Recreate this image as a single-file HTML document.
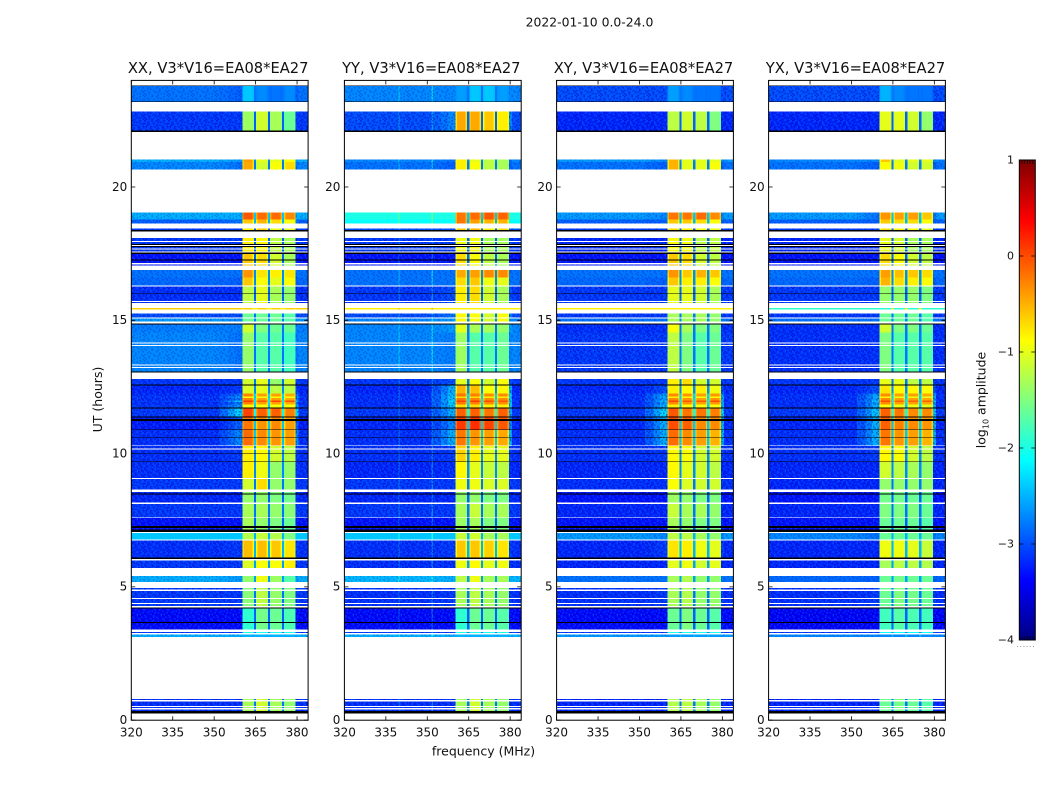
<!DOCTYPE html>
<html lang="en">
<head>
<meta charset="utf-8">
<title>2022-01-10 0.0-24.0</title>
<style>
html,body{margin:0;padding:0;background:#fff;}
svg{display:block;font-family:"DejaVu Sans","Liberation Sans",sans-serif;fill:#111;}
</style>
</head>
<body>
<svg id="chart" xmlns="http://www.w3.org/2000/svg" width="1050" height="800" viewBox="0 0 1050 800">
  <defs>
    <pattern id="noise-tile" width="24" height="24" patternUnits="userSpaceOnUse">
      <path id="noise-dark" shape-rendering="crispEdges" fill="rgba(0,0,150,0.42)"></path>
      <path id="noise-light" shape-rendering="crispEdges" fill="rgba(0,125,255,0.36)"></path>
    </pattern>
  </defs>
  <text x="589.5" y="26.5" font-size="12.4" text-anchor="middle">2022-01-10 0.0-24.0</text>
  <text x="483.5" y="755.5" font-size="12.5" text-anchor="middle">frequency (MHz)</text>
  <text transform="translate(102,399.5) rotate(-90)" font-size="12.5" text-anchor="middle">UT (hours)</text>
  <text transform="translate(985.5,400) rotate(-90)" font-size="12.5" text-anchor="middle">log<tspan font-size="8" dy="3">10</tspan><tspan dy="-3"> amplitude</tspan></text>
  <g id="panels"></g>
  <g id="colorbar"></g>
</svg>
<script>
// ---- Data ----
const panelNames = ["XX", "YY", "XY", "YX"];
const xTicks = [320, 335, 350, 365, 380];
const yTicks = [0, 5, 10, 15, 20];
const colorTicks = [1, 0, -1, -2, -3, -4];
const blockEdgesMHz = [[360.2, 364.4], [365.2, 369.4], [370.2, 374.5], [375.3, 379.5]];

// rows: [start UT, end UT, profile]; profile -1 is a flagged (black) row. Gaps stay white.
const rows = [
[23.81,23.79,-1],[23.79,23.21,0],[23.21,23.19,-1],[22.84,22.13,1],[22.13,22.06,-1],[21.04,20.94,2],[20.94,20.66,3],
[19.04,18.79,4],[18.79,18.64,5],[18.45,18.38,6],[18.38,18.34,-1],[18.08,17.97,7],[17.94,17.86,7],[17.86,17.82,-1],
[17.79,17.75,-1],[17.75,17.70,7],[17.66,17.58,7],[17.54,17.49,-1],[17.49,17.28,8],[17.28,17.24,-1],[17.24,17.15,8],
[17.10,17.06,8],[16.88,16.60,9],[16.60,16.30,10],[16.26,16.02,11],[16.02,16.00,-1],[16.00,15.72,11],[15.68,15.65,11],
[15.46,15.41,12],[15.25,15.10,13],[15.06,14.96,14],[14.88,14.84,-1],[14.84,14.55,15],[14.55,14.16,16],[14.13,14.07,16],
[14.04,13.35,16],[13.31,13.25,16],[13.21,13.08,16],[13.08,13.04,-1],[12.79,12.60,17],[12.60,12.56,-1],[12.56,12.25,18],
[12.25,12.15,19],[12.15,12.08,38],[12.08,12.00,19],[12.00,11.93,39],[11.93,11.85,19],[11.85,11.73,38],
[11.73,11.69,-1],[11.69,11.40,20],[11.40,11.36,-1],[11.36,11.29,21],[11.29,11.22,-1],[11.22,10.90,21],
[10.90,10.88,-1],[10.88,10.61,22],[10.61,10.59,-1],[10.59,10.31,22],[10.28,10.19,23],[10.15,10.00,23],[10.00,9.98,-1],
[9.98,9.71,23],[9.71,9.68,-1],[9.68,9.08,24],[9.04,8.66,25],[8.56,8.50,26],[8.50,8.46,-1],[8.46,8.16,26],[8.11,7.61,27],
[7.59,7.29,28],[7.29,7.21,-1],[7.21,7.15,28],[7.15,7.06,-1],[7.02,6.78,29],[6.74,6.10,30],[6.10,6.05,-1],[6.00,5.71,31],
[5.41,5.18,32],[4.96,4.90,33],[4.85,4.59,33],[4.54,4.39,33],[4.35,4.28,33],[4.23,4.19,-1],[4.19,3.68,34],[3.68,3.64,-1],
[3.64,3.40,34],[3.31,3.27,35],[3.21,3.12,36],[0.79,0.75,37],[0.71,0.54,37],[0.50,0.46,37],[0.41,0.34,37],[0.34,0.26,-1]
];

// log10 amplitude per profile: [background, shoulder, block1, block2, block3, block4]
const levelsXX = [
[-2.8,-2.9,-2.4,-2.7,-2.8,-2.7],[-3.1,-3.1,-1.35,-1.1,-1.3,-1.6],[-2.5,-2.6,-.4,-1,-1,-.9],[-2.7,-2.8,-.45,-1.1,-.9,-.7],
[-2.5,-2.5,-.05,-.15,-.15,-.3],[-2.9,-2.8,-.6,-.5,-.7,-.9],[-3.1,-3.1,-.8,-.6,-1,-1],[-3.1,-3.1,-.8,-.85,-1.2,-1.3],
[-3.3,-3.3,-.6,-.7,-1.1,-1.3],[-2.8,-2.8,-.35,-.75,-.8,-.75],[-2.85,-2.9,-.6,-.9,-1,-.9],[-3.15,-3.15,-1.2,-1,-1.3,-1.4],
[-.65,-.65,-.65,-.65,-.65,-.65],[-3,-3,-1.6,-1.6,-1.6,-1.7],[-2.6,-2.7,-1.6,-1.6,-1.6,-1.7],[-2.75,-2.75,-1.1,-1.5,-1.6,-1.6],
[-2.7,-2.8,-1.4,-1.7,-1.7,-1.8],[-3.1,-3.1,-1.1,-1,-1.4,-1.1],[-3.2,-3.1,-1.05,-1,-1.2,-1.2],[-3.15,-2.8,-.25,-.4,-.4,-.45],
[-3.1,-2.3,.05,-.1,-.1,-.25],[-3.25,-2.9,-.2,-.35,-.3,-.4],[-3.15,-2.7,-.15,-.3,-.35,-.4],[-3.15,-3.1,-.8,-.85,-1.1,-1.2],
[-3.15,-3.15,-.8,-.95,-1.4,-1.4],[-3.1,-3.1,-1.1,-.7,-1.4,-1.4],[-3.2,-3.2,-1.4,-1.4,-1.5,-1.55],[-3.1,-3.1,-1.3,-1.3,-1.4,-1.45],
[-3.3,-3.3,-1.3,-1.4,-1.5,-1.6],[-2.4,-2.4,-1.25,-1.15,-1.25,-1.5],[-3.15,-3.1,-.55,-.55,-.6,-.75],[-3.1,-3.1,-1.05,-.9,-.9,-.8],
[-2.5,-2.6,-1.4,-.95,-1.35,-1.7],[-3.1,-3.1,-1.45,-1.2,-1.4,-1.5],[-3.35,-3.35,-1.9,-1.55,-1.6,-1.75],[-3.1,-3.1,-2,-2,-2,-2],
[-2.5,-2.5,-2.5,-2.5,-2.5,-2.5],[-3.15,-3.15,-1.3,-1.1,-1.3,-1.4],[-3.1,-2.6,-.85,-.9,-.9,-.9],[-3.1,-2.4,.1,-.05,.05,0]
];
const levelsYY = [
[-2.7,-2.7,-2.6,-2.4,-2.4,-2.6],[-3,-2.7,-.45,-.45,-.6,-.8],[-2.7,-2.8,-.8,-1,-1.2,-1.3],[-2.8,-2.9,-.8,-.9,-1.2,-1.3],
[-2,-2,-.2,-.15,-.05,-.1],[-2.1,-2.1,-.2,-.4,-.5,-.5],[-3,-3,-.6,-.5,-.8,-.7],[-3.1,-3.1,-.95,-.95,-1.3,-1.3],
[-3.3,-3.3,-.7,-.9,-1.2,-1.3],[-2.8,-2.8,-.45,-.4,-.3,-.3],[-2.8,-2.8,-.7,-.6,-.95,-1],[-3.1,-3,-.8,-.7,-1.1,-1.3],
[-.8,-.8,-.8,-.8,-.8,-.8],[-3,-2.8,-.85,-.9,-1.1,-.9],[-2.7,-2.6,-.85,-.9,-1.1,-.9],[-2.7,-2.6,-1,-1.3,-1.3,-1.4],
[-2.7,-2.75,-1.35,-1.7,-1.7,-1.6],[-3.1,-3,-1,-.9,-1.1,-.9],[-3.2,-2.5,-.5,-.55,-.9,-.85],[-3.15,-2.4,-.2,-.25,-.3,-.3],
[-3.1,-2.5,-.1,-.1,-.2,-.1],[-3.2,-2.7,.1,.15,.05,-.05],[-3.15,-2.5,-.2,-.35,-.4,-.45],[-3.15,-3.1,-.65,-.8,-1,-1],
[-3.2,-3.15,-.85,-1,-1.15,-1.2],[-3.1,-3.1,-.95,-.95,-1.05,-1.05],[-3.2,-3.2,-1.4,-1.4,-1.5,-1.5],[-3.1,-3.1,-1.3,-1.15,-1.3,-1.3],
[-3.3,-3.3,-1.35,-1.3,-1.5,-1.5],[-2.4,-2.4,-1.15,-1.1,-1.3,-1.3],[-3.15,-3.1,-.6,-.6,-.65,-.75],[-3.15,-3.15,-.95,-.85,-1,-.95],
[-2.45,-2.5,-1.2,-.95,-1.3,-1.3],[-3.15,-3.1,-1.3,-1.2,-1.3,-1.4],[-3.35,-3.35,-1.9,-1.6,-1.6,-1.7],[-3.1,-3.1,-2,-2,-2,-2],
[-2.5,-2.5,-2.5,-2.5,-2.5,-2.5],[-3.15,-3.15,-1.3,-1.1,-1.3,-1.4],[-3.15,-2.4,-.7,-.7,-.8,-.8],[-3.15,-2.3,.05,.1,0,-.05]
];
const levelsXY = [
[-3,-3,-2.6,-2.7,-2.8,-2.8],[-3.2,-3.2,-1.2,-1.1,-1.2,-1.5],[-2.6,-2.7,-.5,-1,-1,-1],[-2.8,-2.9,-.5,-1,-1,-.9],
[-2.6,-2.7,-.2,-.2,-.15,-.3],[-2.9,-2.9,-.6,-.6,-.7,-.9],[-3.1,-3.1,-.7,-.8,-.9,-1],[-3.2,-3.2,-.9,-.95,-1.2,-1.2],
[-3.3,-3.3,-.6,-.7,-1.1,-1.2],[-2.8,-2.8,-.35,-.6,-.5,-.6],[-2.85,-2.9,-.6,-.8,-.8,-.9],[-3.1,-3.1,-1,-1,-1.1,-1.3],
[-.8,-.8,-.8,-.8,-.8,-.8],[-3.1,-3.1,-1.3,-1.3,-1.3,-1.4],[-2.8,-2.8,-1.3,-1.3,-1.3,-1.4],[-3.15,-3.15,-.9,-1.3,-1.5,-1.5],
[-3.1,-3.1,-1.2,-1.5,-1.7,-1.6],[-3.1,-3.1,-.8,-.7,-1.1,-1.1],[-3.2,-3,-.8,-.85,-.8,-.95],[-3.15,-2.6,-.3,-.35,-.4,-.35],
[-3.1,-2.3,-.05,-.2,-.2,-.25],[-3.2,-2.5,0,-.1,-.3,-.3],[-3.15,-2.5,-.15,-.3,-.4,-.5],[-3.15,-3.1,-.85,-.9,-1.1,-1.1],
[-3.2,-3.2,-.85,-1,-1.1,-1.2],[-3.15,-3.15,-.9,-1.05,-1.1,-1.1],[-3.3,-3.3,-1.35,-1.4,-1.5,-1.5],[-3.2,-3.2,-1.15,-1.3,-1.3,-1.4],
[-3.3,-3.3,-1.3,-1.4,-1.5,-1.5],[-2.6,-2.7,-1.2,-1.2,-1.3,-1.4],[-3.2,-3.1,-.75,-.8,-.95,-1],[-3.2,-3.2,-1,-.95,-1.1,-1],
[-2.8,-2.8,-1.3,-1.25,-1.4,-1.4],[-3.15,-3.1,-1.3,-1.25,-1.4,-1.4],[-3.35,-3.35,-1.6,-1.5,-1.6,-1.7],[-3.1,-3.1,-2,-2,-2,-2],
[-2.6,-2.6,-2.6,-2.6,-2.6,-2.6],[-3.2,-3.2,-1.25,-1.2,-1.3,-1.4],[-3.15,-2.5,-.8,-.85,-.9,-.9],[-3.15,-2.4,.05,-.05,-.05,0]
];
const levelsYX = [
[-3,-3,-2.5,-2.7,-2.8,-2.8],[-3.2,-3.2,-1,-1,-1.1,-1.4],[-2.7,-2.7,-.6,-1,-1,-1],[-2.8,-2.9,-.9,-.95,-1.1,-1.1],
[-2.6,-2.8,-.35,-.4,-.4,-.6],[-2.9,-2.9,-.6,-.7,-.7,-.9],[-3.1,-3.1,-.7,-.8,-.9,-1],[-3.2,-3.2,-1,-1.1,-1.3,-1.3],
[-3.3,-3.3,-.7,-.9,-1.1,-1.2],[-2.8,-2.8,-.4,-.55,-.6,-.7],[-2.85,-2.9,-.5,-.7,-.8,-.9],[-3.1,-3.1,-1.4,-1.4,-1.4,-1.5],
[-1.9,-1.9,-1.9,-1.9,-1.9,-1.9],[-3.1,-3.1,-1.6,-1.6,-1.6,-1.7],[-2.8,-2.8,-1.6,-1.6,-1.6,-1.7],[-3.15,-3.15,-1.1,-1.5,-1.5,-1.6],
[-3.15,-3.15,-1.5,-1.7,-1.7,-1.7],[-3.1,-3.1,-1,-1,-1.2,-1.2],[-3.2,-3,-.75,-.85,-.85,-.9],[-3.15,-2.6,-.3,-.4,-.4,-.45],
[-3.1,-2.4,-.1,-.2,-.3,-.3],[-3.2,-2.5,-.1,-.25,-.3,-.35],[-3.15,-2.5,-.2,-.35,-.4,-.5],[-3.15,-3.1,-.85,-.9,-1.1,-1.2],
[-3.2,-3.2,-1.1,-1.2,-1.3,-1.4],[-3.2,-3.2,-1.4,-1.4,-1.4,-1.4],[-3.3,-3.3,-1.55,-1.55,-1.6,-1.6],[-3.2,-3.2,-1.5,-1.5,-1.5,-1.6],
[-3.3,-3.3,-1.6,-1.6,-1.6,-1.7],[-2.7,-2.8,-1.6,-1.6,-1.6,-1.6],[-3.2,-3.2,-.95,-.95,-1,-1.15],[-3.2,-3.2,-1.3,-1.2,-1.2,-1.25],
[-2.85,-2.9,-1.6,-1.55,-1.6,-1.6],[-3.15,-3.1,-1.6,-1.5,-1.55,-1.6],[-3.4,-3.4,-1.8,-1.7,-1.75,-1.8],[-3.1,-3.1,-2.1,-2.1,-2.1,-2.1],
[-2.7,-2.7,-2.7,-2.7,-2.7,-2.7],[-3.2,-3.2,-1.6,-1.55,-1.6,-1.7],[-3.15,-2.5,-.85,-.95,-.95,-1],[-3.15,-2.4,0,-.1,-.1,-.1]
];
const notchLevels = [-2.8,-2.9,-2.7,-2.8,-2.4,-2.5,-2.9,-2.9,-2.9,-2.7,-2.7,-2.9,-.8,-2.8,-2.7,-2.8,-2.8,-2.8,-2.7,-2.3,-2.1,-2.4,-2.4,-2.7,-2.7,-2.8,-2.9,-2.8,-2.9,-2.5,-2.5,-2.6,-2.6,-2.8,-2.9,-2.8,-2.5,-2.8,-2.4,-2.2];
const panelLevels = [levelsXX, levelsYY, levelsXY, levelsYX];
const spursMHz = [[], [339.5, 351.5], [], []];

// Speckle tile for the receiver-noise background: d = darker, l = lighter, . = none
const noiseTile = [
"d.l..dl.d..l.d.l",".ld.l...ld.d..l.","d..dl.d...l.ld.d","l.d..l.ld.d..l..",
".d.ld..d..l.d.ld","..l.d.l..d.ld...","ld...d.ld.l..d.l","..dl.l...d.dl.d.",
"d.l..d.l.l..d..l",".d..ld...d.l.ld.","l..d..l.d..ld..d",".ld.d.l.l.d...l.","d...l.d..ld.l.d.",
".l.d..ld.d...l.d","d.ld.l...l.d.d..",".d...d.l.d.l..ld"
];

// ---- Layout and axis functions ----
const SVGNS = "http://www.w3.org/2000/svg";
const panelLeft = [131.3, 344.4, 556.6, 768.6];
const plotWidth = 176.8, plotTop = 80.4, plotBottom = 720.2;
const cbLeft = 1019.3, cbRight = 1035.3, cbTop = 160, cbBottom = 640;

function xScale(left, mhz) { return left + (mhz - 320) * plotWidth / 64; }
function yScale(ut) { return plotBottom - ut * (plotBottom - plotTop) / 24; }
function cbScale(v) { return cbBottom - (v + 4) * (cbBottom - cbTop) / 5; }
function clamp01(v) { return Math.max(0, Math.min(1, v)); }
function jet(v) {
  const t = clamp01((v + 4) / 5);
  const r = clamp01(Math.min(4 * t - 1.5, -4 * t + 4.5));
  const g = clamp01(Math.min(4 * t - 0.5, -4 * t + 3.5));
  const b = clamp01(Math.min(4 * t + 0.5, -4 * t + 2.5));
  return "rgb(" + Math.round(r * 255) + "," + Math.round(g * 255) + "," + Math.round(b * 255) + ")";
}
function make(tag, attrs, parent) {
  const el = document.createElementNS(SVGNS, tag);
  for (const k in attrs) el.setAttribute(k, attrs[k]);
  parent.appendChild(el);
  return el;
}

// Noise tile paths
let darkPath = "", lightPath = "";
noiseTile.forEach(function (line, r) {
  line.split("").forEach(function (ch, c) {
    const seg = "M" + c * 1.5 + " " + r * 1.5 + "h1.5v1.5h-1.5z";
    if (ch === "d") darkPath += seg;
    if (ch === "l") lightPath += seg;
  });
});
document.getElementById("noise-dark").setAttribute("d", darkPath);
document.getElementById("noise-light").setAttribute("d", lightPath);

function cell(group, left, f0, f1, y0, h, fill) {
  const x0 = xScale(left, f0);
  const r = make("rect", { x: x0, y: y0, width: xScale(left, f1) - x0, height: h, fill: fill }, group);
  
  
  return r;
}

const root = document.getElementById("panels");
panelNames.forEach(function (name, p) {
  const left = panelLeft[p];
  const right = left + plotWidth;
  const levels = panelLevels[p];
  const g = make("g", {}, root);
  
  
  const hm = make("g", { "shape-rendering": "crispEdges" }, g);
  
  

  rows.forEach(function (row) {
    const y0 = yScale(row[0]);
    const h = yScale(row[1]) - y0;
    if (row[2] < 0) {
      const bad = make("rect", { x: left, y: y0, width: plotWidth, height: h, fill: "#000" }, hm);
      
      
      return;
    }
    const lv = levels[row[2]];
    const bg = lv[0], sh = lv[1];
    const notch = notchLevels[row[2]];
    cell(hm, left, 320, 352, y0, h, jet(bg));
    cell(hm, left, 352, 355, y0, h, jet((2 * bg + sh) / 3));
    cell(hm, left, 355, 357.5, y0, h, jet((bg + 2 * sh) / 3));
    cell(hm, left, 357.5, 360.2, y0, h, jet(sh));
    spursMHz[p].forEach(function (f) {
      cell(hm, left, f, f + 0.5, y0, h, jet(bg + 0.4));
    });
    cell(hm, left, 379.5, 380.6, y0, h, jet(sh));
    cell(hm, left, 380.6, 384, y0, h, jet(bg));
    if (bg < -2.4) {
      const grain = bg < -2.9 ? 1 : 0.6;
      cell(hm, left, 320, 360.2, y0, h, "url(#noise-tile)").setAttribute("fill-opacity", grain);
      cell(hm, left, 379.5, 384, y0, h, "url(#noise-tile)").setAttribute("fill-opacity", grain);
    }
    blockEdgesMHz.forEach(function (edge, b) {
      const v = lv[b + 2];
      const drop = v > -0.8 ? 0.3 : 0.05;
      cell(hm, left, edge[0], edge[1], y0, h, jet(v - drop));
      cell(hm, left, edge[0] + 0.5, edge[1] - 0.5, y0, h, jet(v));
      if (b < 3) cell(hm, left, edge[1], blockEdgesMHz[b + 1][0], y0, h, jet(notch));
    });
  });

  const frame = make("rect", { x: left, y: plotTop, width: plotWidth, height: plotBottom - plotTop, fill: "none", stroke: "#000", "stroke-width": 1 }, g);
  
  

  const title = make("text", { x: left + plotWidth / 2 - 1.5, y: 73, "font-size": 14.7, "text-anchor": "middle" }, g);
  
  
  title.textContent = name + ", V3*V16=EA08*EA27";

  xTicks.forEach(function (t) {
    const x = xScale(left, t);
    const tick = make("path", { d: "M" + x + " " + plotBottom + "v-4M" + x + " " + plotTop + "v4", stroke: "#000", "stroke-width": 0.8, fill: "none" }, g);
    
    
    const lab = make("text", { x: x, y: 736.5, "font-size": 12, "text-anchor": "middle" }, g);
    
    
    lab.textContent = t;
  });
  yTicks.forEach(function (t) {
    const y = yScale(t);
    const tick = make("path", { d: "M" + left + " " + y + "h4M" + right + " " + y + "h-4", stroke: "#000", "stroke-width": 0.8, fill: "none" }, g);
    
    
    const lab = make("text", { x: left - 4, y: y + 3.8, "font-size": 12, "text-anchor": "end" }, g);
    
    
    lab.textContent = t;
  });
});

// Colorbar
const cb = document.getElementById("colorbar");
const ramp = make("g", { "shape-rendering": "crispEdges" }, cb);


for (let i = 0; i < 240; i++) {
  const v = -4 + (i + 0.5) * 5 / 240;
  const y = cbScale(-4 + (i + 1) * 5 / 240);
  const seg = make("rect", { x: cbLeft, y: y, width: cbRight - cbLeft, height: (cbBottom - cbTop) / 240 + 0.5, fill: jet(v) }, ramp);
  
  
}
const cbFrame = make("rect", { x: cbLeft, y: cbTop, width: cbRight - cbLeft, height: cbBottom - cbTop, fill: "none", stroke: "#000", "stroke-width": 1 }, cb);


colorTicks.forEach(function (t) {
  const y = cbScale(t);
  const tick = make("path", { d: "M" + cbLeft + " " + y + "h4M" + cbRight + " " + y + "h-4", stroke: "#000", "stroke-width": 0.8, fill: "none" }, cb);
  
  
  const lab = make("text", { x: 1014, y: y + 3.5, "font-size": 11, "text-anchor": "end" }, cb);
  
  
  lab.textContent = String(t).replace("-", "\u2212");
});
const minor = make("path", { d: "", stroke: "#000", "stroke-width": 0.7, fill: "none" }, cb);


let minorPath = "";
for (let x = cbLeft + 2.7; x < cbRight - 1; x += 2.7) {
  minorPath += "M" + x + " " + cbTop + "v4M" + x + " " + cbBottom + "v-4";
}
minor.setAttribute("d", minorPath);
const dots = make("line", { x1: 1017, y1: 646.5, x2: 1035, y2: 646.5, stroke: "#999", "stroke-width": 1, "stroke-dasharray": "1 2.2" }, cb);


</script>
</body>
</html>
